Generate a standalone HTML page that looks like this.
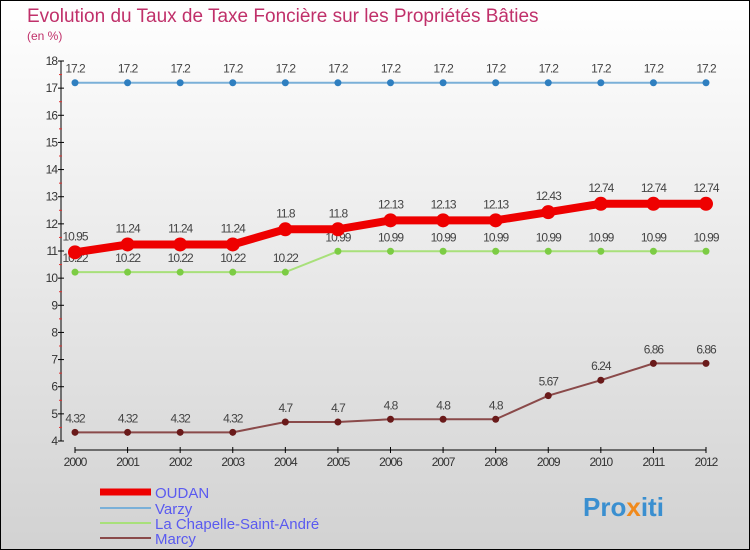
<!DOCTYPE html>
<html><head><meta charset="utf-8"><style>
html,body{margin:0;padding:0}
body{width:750px;height:550px;overflow:hidden;font-family:"Liberation Sans",sans-serif}
#wrap{position:absolute;left:0;top:0;width:748px;height:548px;border:1px solid #000;background:linear-gradient(#ffffff,#d2d2d2)}
</style></head><body>
<div id="wrap">
<svg id="chart" width="750" height="550" style="position:absolute;left:-1px;top:-1px">
<text x="27" y="22" font-size="19" fill="#c0306a">Evolution du Taux de Taxe Foncière sur les Propriétés Bâties</text>
<text x="27" y="40" font-size="12" fill="#c0306a">(en %)</text>
<g id="axes"></g><g id="series"></g><g id="legend"></g>
<text x="583" y="516" font-size="26" font-weight="bold" fill="#3a8fd0">Pro<tspan fill="#f08a1c">x</tspan>iti</text>
</svg></div>
<script>
const years=[2000,2001,2002,2003,2004,2005,2006,2007,2008,2009,2010,2011,2012];
const oudan=[10.95,11.24,11.24,11.24,11.8,11.8,12.13,12.13,12.13,12.43,12.74,12.74,12.74];
const varzy=[17.2,17.2,17.2,17.2,17.2,17.2,17.2,17.2,17.2,17.2,17.2,17.2,17.2];
const chapelle=[10.22,10.22,10.22,10.22,10.22,10.99,10.99,10.99,10.99,10.99,10.99,10.99,10.99];
const marcy=[4.32,4.32,4.32,4.32,4.7,4.7,4.8,4.8,4.8,5.67,6.24,6.86,6.86];
const yTicks=[4,5,6,7,8,9,10,11,12,13,14,15,16,17,18];
const NS="http://www.w3.org/2000/svg";
const xS=i=>75+i*(706-75)/(years.length-1);
const yS=v=>441-(v-4)*(380/14);
function mk(tag,at,parent){const e=document.createElementNS(NS,tag);for(const k in at)e.setAttribute(k,at[k]);parent.appendChild(e);return e;}
const ax=document.getElementById('axes');
let l=mk('line',{x1:61,y1:yS(18),x2:61,y2:yS(4),stroke:'#000'},ax);


yTicks.forEach(v=>{
 mk('line',{x1:58,x2:64,y1:yS(v),y2:yS(v),stroke:'#000'},ax);
 if(v<18) mk('line',{x1:59,x2:62,y1:yS(v+0.5),y2:yS(v+0.5),stroke:'#e03030'},ax);
 const t=mk('text',{x:57,y:yS(v)+4,'font-size':12,fill:'#333','text-anchor':'end','letter-spacing':'-1'},ax);
 t.textContent=v;
 
 
});
l=mk('line',{x1:75,y1:450,x2:706,y2:450,stroke:'#000'},ax);


years.forEach((y,i)=>{
 mk('line',{x1:xS(i),x2:xS(i),y1:447,y2:453,stroke:'#000'},ax);
 const t=mk('text',{x:xS(i),y:466,'font-size':12,fill:'#333','text-anchor':'middle','letter-spacing':'-1'},ax);
 t.textContent=y;
 
 
});
const sg=document.getElementById('series');
function series(name,vals,color,w,r,dot,labOff){
 const g=mk('g',{},sg);
 
 
 mk('polyline',{points:vals.map((v,i)=>xS(i)+','+yS(v)).join(' '),fill:'none',stroke:color,'stroke-width':w},g);
 vals.forEach((v,i)=>{
  const c=mk('circle',{cx:xS(i),cy:yS(v),r:r,fill:dot},g);
  
  
  const t=mk('text',{x:xS(i),y:yS(v)+labOff,'font-size':12,fill:'#444','text-anchor':'middle','letter-spacing':'-1'},g);
  t.textContent=v;
  
  
 });
}
series('varzy',varzy,'#7ab0d8',2,3.5,'#2f7fc0',-10);
series('chapelle',chapelle,'#a8e07a',2,3.5,'#7ccc44',-10);
series('marcy',marcy,'#8a4a4a',2,3.5,'#6a1a1a',-10);
series('oudan',oudan,'#ee0000',8,7,'#ee0000',-12);
const lg=document.getElementById('legend');
[['OUDAN','#ee0000',7,492],['Varzy','#7ab0d8',2,508],['La Chapelle-Saint-André','#a8e07a',2,523],['Marcy','#8a4a4a',2,538]].forEach(e=>{
 const g=mk('g',{},lg);
 
 
 mk('line',{x1:100,x2:151,y1:e[3],y2:e[3],stroke:e[1],'stroke-width':e[2]},g);
 const t=mk('text',{x:155,y:e[3]+6,'font-size':15,fill:'#5a5af0'},g);
 t.textContent=e[0];
});
</script>
</body></html>
